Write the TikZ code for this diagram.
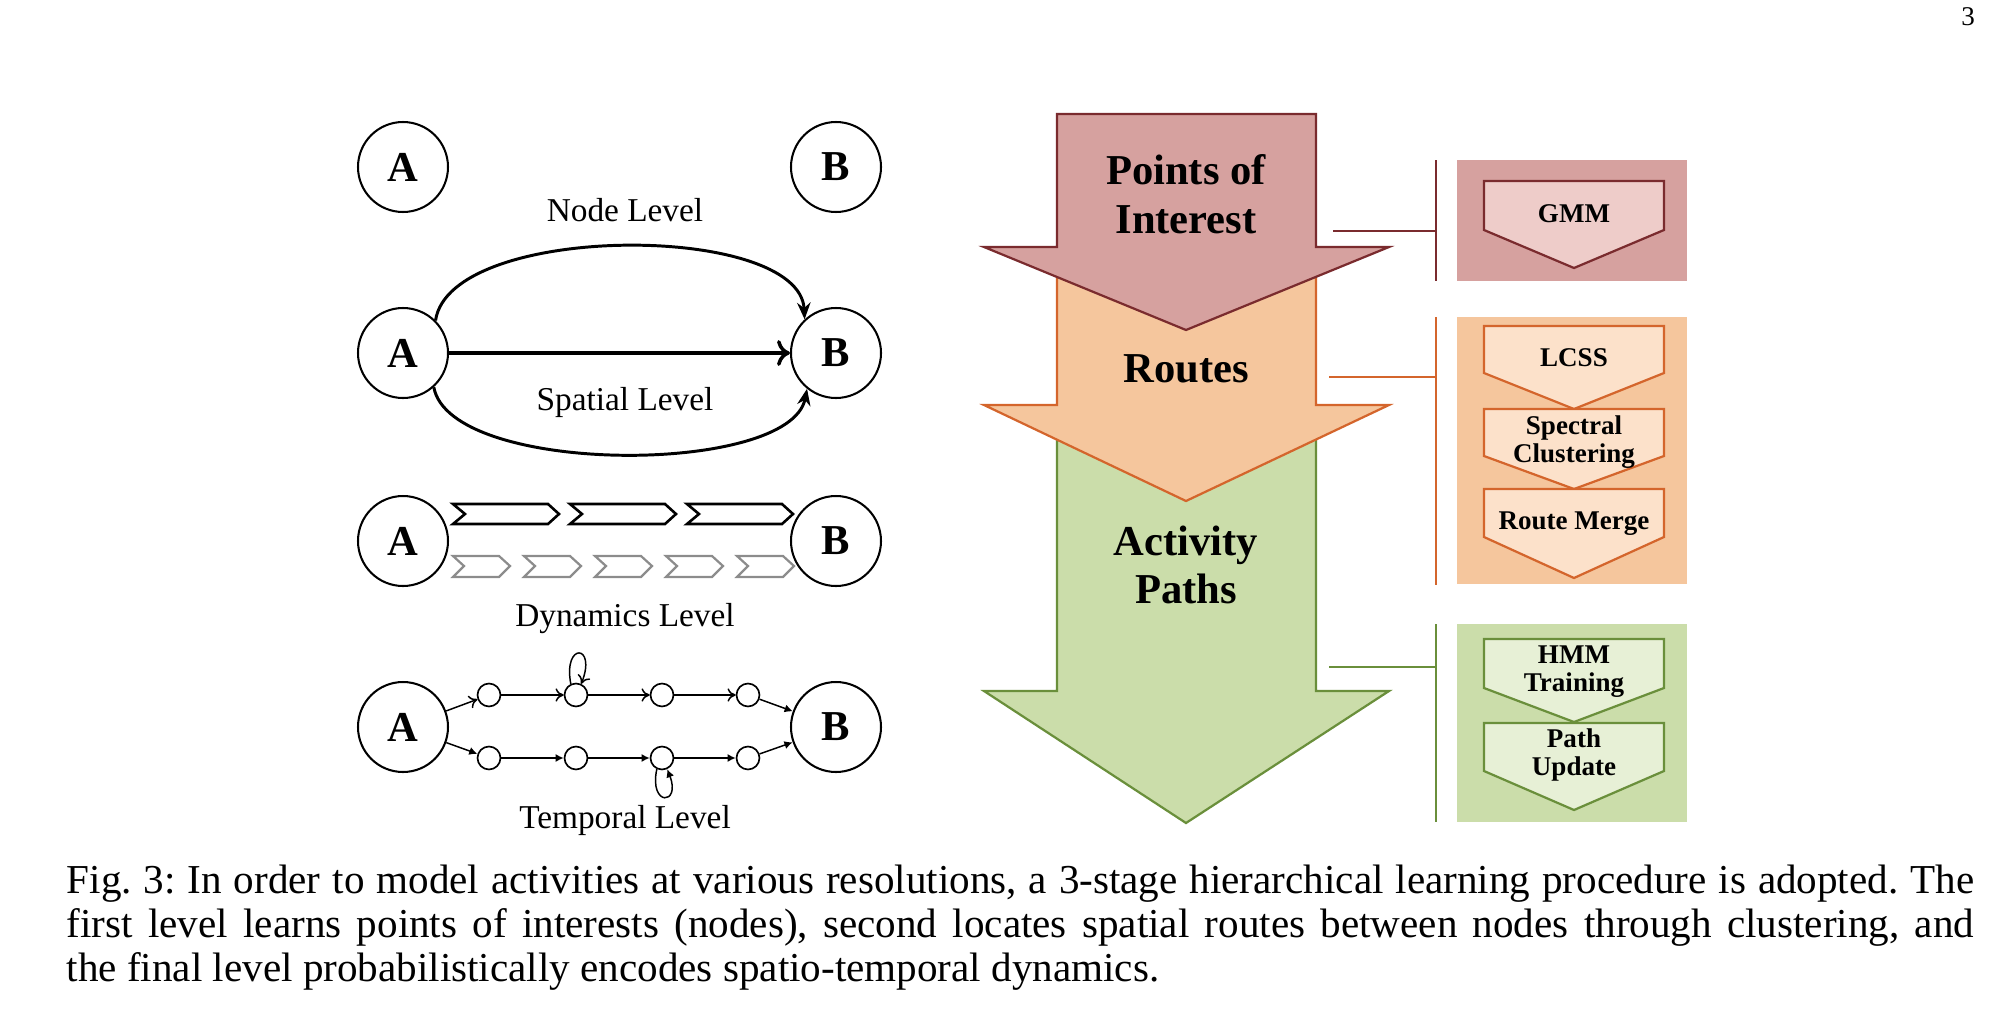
\documentclass[tikz,border=0pt]{standalone}
\usepackage{fontspec}
\setmainfont{Liberation Serif}
\usetikzlibrary{arrows.meta}
\definecolor{poifill}{HTML}{D6A19F}
\definecolor{poiline}{HTML}{7A2B2E}
\definecolor{poilight}{HTML}{EECCC9}
\definecolor{rtfill}{HTML}{F5C69D}
\definecolor{rtline}{HTML}{D4652C}
\definecolor{rtlight}{HTML}{FCE1CA}
\definecolor{apfill}{HTML}{CBDDAA}
\definecolor{apline}{HTML}{6A8F3B}
\definecolor{aplight}{HTML}{E7F0D6}
\definecolor{dyngray}{HTML}{8C8C8C}
\tikzset{
  bignode/.style={circle, draw, line width=0.55pt, minimum size=24.3pt, inner sep=0pt, font=\fontsize{11.5}{13}\selectfont\bfseries},
  smallnode/.style={circle, draw, line width=0.45pt, minimum size=6.2pt, inner sep=0pt},
  lvl/.style={font=\fontsize{9}{10}\selectfont},
  arc/.style={line width=0.8pt, -{Stealth[length=4.5pt,width=3.6pt]}},
  toarrow/.style={line width=0.4pt, -{To[length=2.2pt,width=3.6pt]}},
  fillarrow/.style={line width=0.4pt, -{Latex[length=2.2pt,width=2.2pt]}},
  bigtitle/.style={font=\fontsize{11.5}{13.1}\selectfont\bfseries, align=center},
  chevlabel/.style={font=\fontsize{7.3}{7.6}\selectfont\bfseries, align=center},
  bigarrow/.style={line width=0.6pt, line join=miter},
  chev/.style={line width=0.6pt, line join=miter},
  dynblack/.style={line width=0.7pt, line join=miter},
  dyngrey/.style={line width=0.6pt, draw=dyngray, line join=miter},
}
\begin{document}
\frenchspacing
\begin{tikzpicture}[x=0.27pt, y=-0.27pt]
\useasboundingbox (0,0) rectangle (2004,1016);
% page number
\node[font=\fontsize{7.3}{9}\selectfont] (pagenum) at (1968,17) {3};

% ---------- Node level
\node[bignode] (A1) at (403,167) {A};
\node[bignode] (B1) at (836,167) {B};
\node[lvl] (nodelvl) at (625,210) {Node Level};

% ---------- Spatial level
\node[bignode] (A2) at (403,353) {A};
\node[bignode] (B2) at (836,353) {B};
\draw[arc] (A2.45) .. controls (450,222) and (800,222) .. (B2.133);
\draw[line width=0.95pt, -{To[length=3.5pt,width=7pt]}] (A2) -- (B2);
\draw[arc] (A2.-48) .. controls (450,476) and (790,476) .. (B2.-129);
\node[lvl] (spatlvl) at (625,402) {Spatial Level};

% ---------- Dynamics level
\node[bignode] (A3) at (403,541) {A};
\node[bignode] (B3) at (836,541) {B};
\foreach \xa/\xb in {453/559, 570/676, 687/793}{
  \draw[dynblack] (\xa,504) -- (\xb-11,504) -- (\xb,514) -- (\xb-11,524) -- (\xa,524) -- (\xa+12,514) -- cycle;
}
\foreach \xa in {453, 524, 595, 666, 737}{
  \draw[dyngrey] (\xa,556) -- (\xa+46,556) -- (\xa+57,566) -- (\xa+46,577) -- (\xa,577) -- (\xa+11,566) -- cycle;
}
\node[lvl] (dynlvl) at (625,619) {Dynamics Level};

% ---------- Temporal level
\node[bignode] (A4) at (403,727) {A};
\node[bignode] (B4) at (836,727) {B};
\node[smallnode] (t1) at (489,695) {};
\node[smallnode] (t2) at (576,695) {};
\node[smallnode] (t3) at (662,695) {};
\node[smallnode] (t4) at (748,695) {};
\node[smallnode] (b1) at (489,758) {};
\node[smallnode] (b2) at (576,758) {};
\node[smallnode] (b3) at (662,758) {};
\node[smallnode] (b4) at (748,758) {};
\draw[toarrow] (A4) -- (t1);
\draw[fillarrow] (A4) -- (b1);
\draw[toarrow] (t1) -- (t2);
\draw[toarrow] (t2) -- (t3);
\draw[toarrow] (t3) -- (t4);
\draw[fillarrow] (t4) -- (B4);
\draw[fillarrow] (b1) -- (b2);
\draw[fillarrow] (b2) -- (b3);
\draw[fillarrow] (b3) -- (b4);
\draw[fillarrow] (b4) -- (B4);
\draw[toarrow] (t2.115) .. controls +(-8,-42) and +(16,-40) .. (t2.65);
\draw[fillarrow] (b3.245) .. controls +(-8,38) and +(14,36) .. (b3.295);
\node[lvl] (templvl) at (625,820) {Temporal Level};

% ---------- Big arrows
\draw[bigarrow, fill=apfill, draw=apline] (1057,410) -- (1316,410) -- (1316,691) -- (1389,691) -- (1186,823) -- (984,691) -- (1057,691) -- cycle;
\draw[bigarrow, fill=rtfill, draw=rtline] (1057,250) -- (1316,250) -- (1316,405) -- (1389,405) -- (1186,501) -- (984,405) -- (1057,405) -- cycle;
\draw[bigarrow, fill=poifill, draw=poiline] (1057,114) -- (1316,114) -- (1316,247) -- (1389,247) -- (1186,330) -- (984,247) -- (1057,247) -- cycle;
\node[bigtitle] (poi) at (1186,194) {Points of\\Interest};
\node[bigtitle] (routes) at (1186,369) {Routes};
\node[bigtitle] (paths) at (1186,565) {Activity\\Paths};

% ---------- connectors and brackets
\coordinate (poiR) at (1333,231);
\coordinate (poiB) at (1436,231);
\coordinate (rtR) at (1329,377);
\coordinate (rtB) at (1436,377);
\coordinate (apR) at (1329,667);
\coordinate (apB) at (1436,667);
\draw[poiline, line width=0.6pt] (poiR) -- (poiB);
\draw[poiline, line width=0.6pt] (1436,160) -- (1436,281);
\draw[rtline, line width=0.6pt] (rtR) -- (rtB);
\draw[rtline, line width=0.6pt] (1436,317) -- (1436,585);
\draw[apline, line width=0.6pt] (apR) -- (apB);
\draw[apline, line width=0.6pt] (1436,624) -- (1436,822);

% ---------- boxes
\fill[poifill] (1457,160) rectangle (1687,281);
\fill[rtfill] (1457,317) rectangle (1687,584);
\fill[apfill] (1457,624) rectangle (1687,822);

% ---------- chevrons
\draw[chev, fill=poilight, draw=poiline] (1484,181) -- (1664,181) -- (1664,230) -- (1574,268) -- (1484,230) -- cycle;
\node[chevlabel] (gmm) at (1574,214) {GMM};
\draw[chev, fill=rtlight, draw=rtline] (1484,326) -- (1664,326) -- (1664,373) -- (1574,409) -- (1484,373) -- cycle;
\node[chevlabel] (lcss) at (1574,358) {LCSS};
\draw[chev, fill=rtlight, draw=rtline] (1484,409) -- (1664,409) -- (1664,456) -- (1574,489) -- (1484,456) -- cycle;
\node[chevlabel] (spec) at (1574,442) {Spectral\\Clustering};
\draw[chev, fill=rtlight, draw=rtline] (1484,489) -- (1664,489) -- (1664,537) -- (1574,578) -- (1484,537) -- cycle;
\node[chevlabel] (merge) at (1574,524) {Route Merge};
\draw[chev, fill=aplight, draw=apline] (1484,639) -- (1664,639) -- (1664,688) -- (1574,722) -- (1484,688) -- cycle;
\node[chevlabel] (hmm) at (1574,672) {HMM\\Training};
\draw[chev, fill=aplight, draw=apline] (1484,723) -- (1664,723) -- (1664,771) -- (1574,810) -- (1484,771) -- cycle;
\node[chevlabel] (upd) at (1574,755) {Path\\Update};

% ---------- caption
\node[anchor=north west, inner sep=0pt, text width=515pt, align=justify, font=\fontsize{11.1}{11.9}\selectfont] (caption) at (66,864)
{Fig.~3: In order to model activities at various resolutions, a 3-stage hierarchical learning procedure is adopted. The\linebreak first level learns points of interests (nodes), second locates spatial routes between nodes through clustering, and\linebreak the final level probabilistically encodes spatio-temporal dynamics.};
\end{tikzpicture}
\end{document}
